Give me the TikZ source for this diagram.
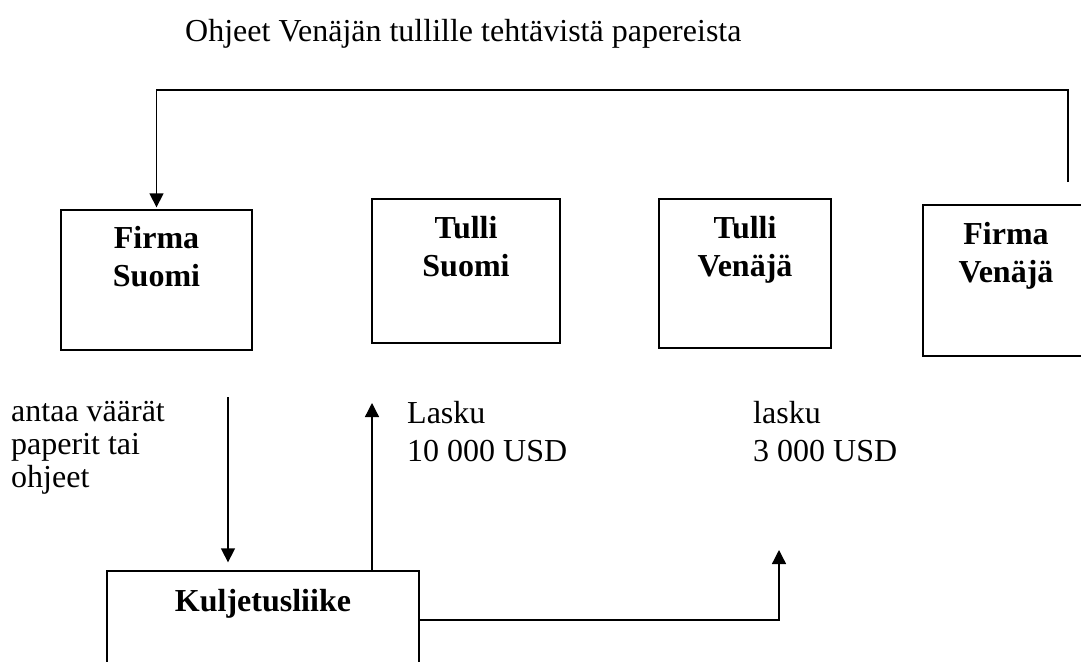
\documentclass[tikz,border=0pt]{standalone}
\usepackage{fontspec}
\setmainfont{Liberation Serif}
\usetikzlibrary{arrows.meta,calc}

\begin{document}
\begin{tikzpicture}[
    x=1pt, y=-1pt,
    every node/.style={font={\fontsize{32}{38}\selectfont}},
    party/.style={draw, rectangle, line width=1.3pt, inner sep=0pt},
    partytext/.style={font={\fontsize{32}{38}\selectfont\bfseries}, align=center, anchor=north, inner sep=0pt},
    note/.style={align=left, anchor=north west, inner sep=0pt},
    flow/.style={line width=1.3pt, -{Triangle[width=14pt,length=14pt]}}
  ]
  \useasboundingbox (0,0) rectangle (1081,661);
  \clip (0,0) rectangle (1081,661);

  \node[note] (title) at (185,19) {Ohjeet Venäjän tullille tehtävistä papereista};

  \node[party, minimum width=191pt, minimum height=140pt,
    label={[partytext, yshift=-17pt]north:Firma\\Suomi}]
  (firmaSuomi) at (156.5,280) {};

  \node[party, minimum width=188pt, minimum height=144pt,
    label={[partytext, yshift=-18pt]north:Tulli\\Suomi}]
  (tulliSuomi) at (466,271) {};

  \node[party, minimum width=172pt, minimum height=149pt,
    label={[partytext, yshift=-18pt]north:Tulli\\Venäjä}]
  (tulliVenaja) at (745,273.5) {};

  \node[party, minimum width=166pt, minimum height=151pt,
    label={[partytext, yshift=-18pt]north:Firma\\Venäjä}]
  (firmaVenaja) at (1006,280.5) {};

  \node[party, minimum width=312pt, minimum height=129pt,
    label={[partytext, yshift=-19pt]north:Kuljetusliike}]
  (kuljetus) at (263,635.5) {};

  \node[note, font={\fontsize{32}{33}\selectfont}] (papers) at (11,401) {antaa väärät\\paperit tai\\ohjeet};
  \node[note] (laskuSuomi) at (407,401) {Lasku\\10 000 USD};
  \node[note] (laskuVenaja) at (753,401) {lasku\\3 000 USD};

  \coordinate (fvOut) at (1068,182);
  \coordinate (topLeft) at (firmaSuomi.north |- 0,90);
  \coordinate (paperStart) at (228,397);
  \coordinate (laskuFi) at (372,403);
  \coordinate (laskuRu) at (779,550);

  \draw[flow, shorten >=2pt] (fvOut) |- (topLeft) -- (firmaSuomi.north);
  \draw[flow, shorten >=8pt] (paperStart) -- (paperStart |- kuljetus.north);
  \draw[flow] (laskuFi |- kuljetus.north) -- (laskuFi);
  \draw[flow] (kuljetus.east |- 0,620) -| (laskuRu);
\end{tikzpicture}
\end{document}
